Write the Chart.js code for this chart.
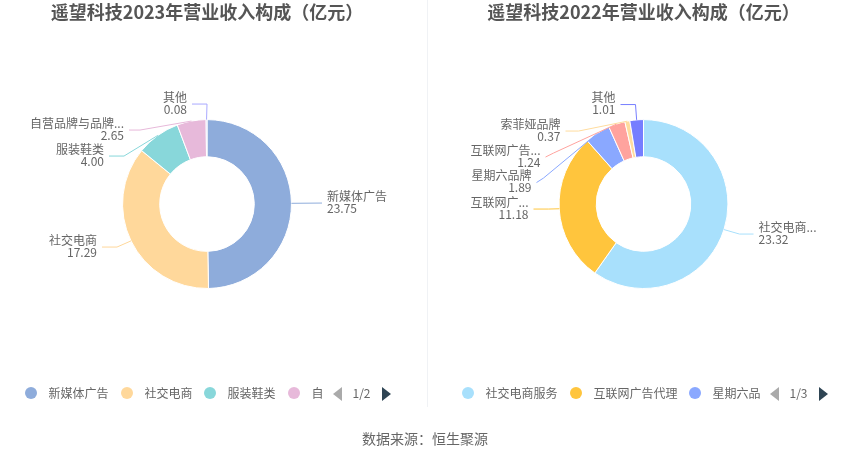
<!DOCTYPE html>
<html><head><meta charset="utf-8">
<script src="https://cdn.jsdelivr.net/npm/chart.js@4"></script>
<style>
html,body{margin:0;padding:0;background:#fff;width:850px;height:459px;overflow:hidden;font-family:"Noto Sans CJK SC","Noto Sans",sans-serif}
canvas{position:absolute;top:0}
#divider{position:absolute;left:427px;top:0;width:1px;height:407px;background:#f0f2f5}
#source{position:absolute;left:0;width:850px;top:429px;text-align:center;font-size:14px;line-height:18px;color:#666}
.legend{position:absolute;top:385px;height:16px;font-size:12px;line-height:16px;color:#666}
.legend span{position:absolute;white-space:nowrap;overflow:hidden}
.legend i{position:absolute;width:12px;height:12px;border-radius:6px;top:2px}
.legend b{position:absolute;top:2px;width:0;height:0;border-top:7px solid transparent;border-bottom:7px solid transparent}
</style></head><body>
<canvas id="c1" style="left:0" width="414" height="459"></canvas>
<canvas id="c2" style="left:425px" width="437" height="459"></canvas>
<div id="divider"></div>
<div class="legend" id="l1"></div>
<div class="legend" id="l2"></div>
<div id="source">数据来源：恒生聚源</div>
<script>
const titleA = '遥望科技2023年营业收入构成（亿元）';
const categoriesA = ['新媒体广告','社交电商','服装鞋类','自营品牌与品牌...','其他'];
const valuesA = [23.75,17.29,4.00,2.65,0.08];
const colorsA = ['#8eacdb','#ffd89b','#88d7da','#e7b9da','#a9a9ff'];
const titleB = '遥望科技2022年营业收入构成（亿元）';
const categoriesB = ['社交电商...','互联网广...','星期六品牌','互联网广告...','索菲娅品牌','其他'];
const valuesB = [23.32,11.18,1.89,1.24,0.37,1.01];
const colorsB = ['#a8e0fc','#ffc53d','#8aa8ff','#ffa39e','#ffdc9e','#767eff'];
const legendA = ['新媒体广告','社交电商','服装鞋类','自'];
const legendB = ['社交电商服务','互联网广告代理','星期六品'];

// leader layout: elbow x,y then end x,y of each leader, relative to the donut centre
const leadersA = [[115,-1,115,-1],[-90,43,-105,43],[-83,-48,-98,-48],[-67,-74,-78,-74],[0,-100,-15,-100]];
const leadersB = [[96,30,110,30],[-95,5,-110,5],[-100,-26,-107,-21.5],[-90,-51,-98,-47],[-65,-73,-78,-73],[-8,-99.5,-23,-99.5]];

const leaderPlugin = {
  id:'leaders',
  afterDatasetsDraw(chart, args, opts){
    const ctx = chart.ctx, arcs = chart.getDatasetMeta(0).data;
    arcs.forEach((arc,i)=>{
      const {x,y,startAngle,endAngle,outerRadius} = arc.getProps(['x','y','startAngle','endAngle','outerRadius'],true);
      const mid = (startAngle+endAngle)/2;
      const [ex,ey,tx,ty] = opts.leaders[i];
      ctx.save();
      ctx.strokeStyle = opts.colors[i];
      ctx.lineWidth = 1;
      ctx.beginPath();
      ctx.moveTo(x+Math.cos(mid)*outerRadius, y+Math.sin(mid)*outerRadius);
      ctx.lineTo(x+ex,y+ey);
      ctx.lineTo(x+tx,y+ty);
      ctx.stroke();
      ctx.fillStyle = '#666';
      ctx.font = '12px "Noto Sans CJK SC"';
      ctx.textBaseline = 'middle';
      const right = tx>0;
      ctx.textAlign = right ? 'left':'right';
      const lx = x+tx+(right?5:-5);
      ctx.fillText(opts.labels[i], lx, y+ty-7);
      ctx.fillText(chart.data.datasets[0].data[i].toFixed(2), lx, y+ty+5);
      ctx.restore();
    });
  }
};

function donut(id,title,labels,values,colors,leaders){
  return new Chart(document.getElementById(id),{
    type:'doughnut',
    data:{labels,datasets:[{data:values,backgroundColor:colors,borderColor:'#fff',borderWidth:1}]},
    options:{
      responsive:false,animation:false,cutout:'56%',
      layout:{padding:{top:0,bottom:170}},
      plugins:{
        legend:{display:false},tooltip:{enabled:false},
        title:{display:true,text:title,color:'#555',font:{size:18,weight:'bold',family:'"Noto Sans CJK SC"'},padding:{top:1,bottom:96.5}},
        leaders:{leaders,colors,labels}
      }
    },
    plugins:[leaderPlugin]
  });
}
donut('c1',titleA,categoriesA,valuesA,colorsA,leadersA);
donut('c2',titleB,categoriesB,valuesB,colorsB,leadersB);

function legend(id,items,colors,xs,pagerX,page){
  const el=document.getElementById(id);
  items.forEach((t,i)=>{
    const m=document.createElement('i');m.style.left=xs[i]+'px';m.style.background=colors[i];el.appendChild(m);
    const s=document.createElement('span');s.style.left=(xs[i]+23.5)+'px';s.textContent=t;el.appendChild(s);
  });
  const a=document.createElement('b');a.style.left=pagerX+'px';a.style.borderRight='9px solid #aaa';el.appendChild(a);
  const p=document.createElement('span');p.style.left=(pagerX+19.5)+'px';p.textContent=page;el.appendChild(p);
  const c=document.createElement('b');c.style.left=(pagerX+48.5)+'px';c.style.borderLeft='9px solid #2f4554';el.appendChild(c);
}
legend('l1',legendA,colorsA,[25,121,204,288],333,'1/2');
legend('l2',legendB,colorsB,[462,570,689],770,'1/3');
</script>
</body></html>
